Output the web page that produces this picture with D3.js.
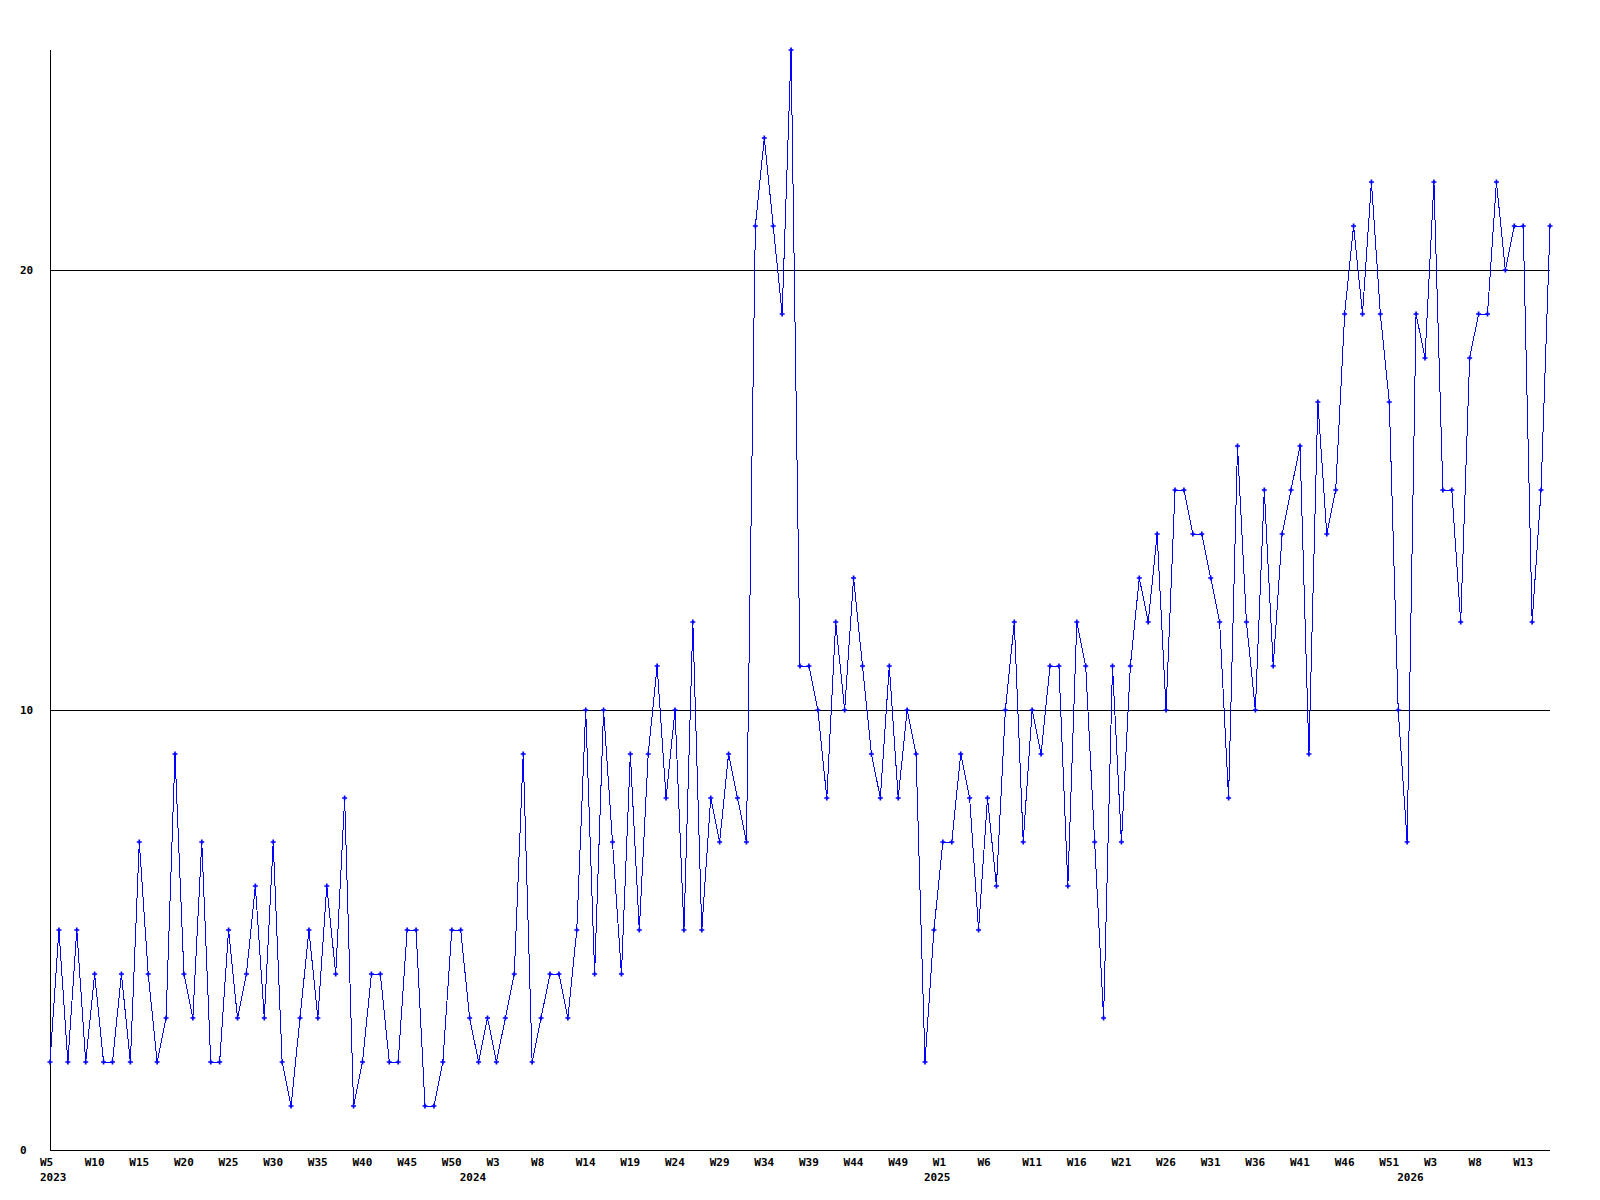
<!DOCTYPE html>
<html>
<head>
<meta charset="utf-8">
<script src="https://cdn.jsdelivr.net/npm/d3@7"></script>
<style>
  body { margin: 0; background: #ffffff; }
  text { font-family: "DejaVu Sans Mono", monospace; font-weight: bold; font-size: 11px; fill: #000; }
</style>
</head>
<body>
<svg id="chart" width="1600" height="1200"></svg>
<script>
// ------------------------------------------------------------------// 
// DATA -------------------------------------------------------------//
// ------------------------------------------------------------------// 

// one value per week, 2023 W5 -> 2026 W16
var counts = [2, 5, 2, 5, 2, 4, 2, 2, 4, 2, 7, 4, 2, 3, 9, 4, 3, 7, 2, 2, 5, 3, 4, 6, 3, 7, 2, 1, 3, 5, 3, 6, 4,
    8, 1, 2, 4, 4, 2, 2, 5, 5, 1, 1, 2, 5, 5, 3,
    2, 3, 2, 3, 4, 9, 2, 3, 4, 4, 3, 5, 10, 4, 10, 7, 4, 9,
    5, 9, 11, 8, 10, 5, 12, 5, 8, 7, 9, 8, 7,
    21, 23, 21, 19, 25,
    11, 11, 10, 8, 12, 10, 13, 11, 9, 8, 11, 8, 10, 9, 2, 5,
    7, 7, 9, 8, 5, 8, 6, 10, 12, 7, 10, 9, 11, 11, 6, 12, 11, 7, 3, 11, 7, 11, 13, 12, 14, 10, 15, 15, 14, 14, 13, 12, 8,
    16, 12, 10, 15, 11, 14, 15, 16, 9, 17, 14, 15, 19, 21, 19, 22, 19, 17, 10, 7, 19, 18, 22, 15, 15, 12, 18, 19, 19, 22, 20, 21, 21, 12, 15, 21];

// week label on every 5th point
var weekLabels = ["W5", "W10", "W15", "W20", "W25", "W30", "W35", "W40", "W45", "W50", "W3", "W8",
    "W14", "W19", "W24", "W29", "W34", "W39", "W44", "W49", "W1", "W6", "W11",
    "W16", "W21", "W26", "W31", "W36", "W41", "W46", "W51", "W3", "W8", "W13"];

var years = ["2023", "2024", "2025", "2026"];
var yearIndex = [0, 47, 99, 152];

var yTicks = [0, 10, 20];

// ------------------------------------------------------------------// 
// CHART ------------------------------------------------------------//
// ------------------------------------------------------------------// 

var margin = { top: 50, right: 50, bottom: 50, left: 50 },
    width = 1600 - margin.left - margin.right,
    height = 1200 - margin.top - margin.bottom;

var svg = d3.select("#chart");

var x = d3.scaleLinear()
    .domain([0, counts.length - 1])
    .range([margin.left, margin.left + width]);

var y = d3.scaleLinear()
    .domain([0, 25])
    .range([margin.top + height, margin.top]);

// grid lines
svg.selectAll("line.grid")
    .data(yTicks.filter(function (d) { return d > 0; }))
    .enter()
    .append("line")
    .attr("class", "grid")
    .attr("x1", x(0))
    .attr("x2", x(counts.length - 1))
    .attr("y1", function (d) { return y(d) + 0.5; })
    .attr("y2", function (d) { return y(d) + 0.5; })
    .attr("stroke", "#000")
    .attr("stroke-width", 1);

// axes (plain lines, no ticks)
svg.append("line")
    .attr("x1", x(0) + 0.5).attr("x2", x(0) + 0.5)
    .attr("y1", y(25)).attr("y2", y(0) + 1)
    .attr("stroke", "#000");

svg.append("line")
    .attr("x1", x(0)).attr("x2", x(counts.length - 1))
    .attr("y1", y(0) + 0.5).attr("y2", y(0) + 0.5)
    .attr("stroke", "#000");

// y labels
svg.selectAll("text.ylab")
    .data(yTicks)
    .enter()
    .append("text")
    .attr("class", "ylab")
    .attr("x", 20)
    .attr("y", function (d) { return y(d) + 4; })
    .text(function (d) { return d; });

// x labels
svg.selectAll("text.week")
    .data(weekLabels)
    .enter()
    .append("text")
    .attr("class", "week")
    .attr("x", function (d, i) { return x(i * 5) - 10; })
    .attr("y", 1166)
    .text(function (d) { return d; });

svg.selectAll("text.year")
    .data(years)
    .enter()
    .append("text")
    .attr("class", "year")
    .attr("x", function (d, i) { return x(yearIndex[i]) - 10; })
    .attr("y", 1181)
    .text(function (d) { return d; });

// the series
var line = d3.line()
    .x(function (d, i) { return x(i); })
    .y(function (d) { return y(d); });

svg.append("path")
    .datum(counts)
    .attr("d", line)
    .attr("fill", "none")
    .attr("stroke", "#0000ff")
    .attr("stroke-width", 1)
    .attr("shape-rendering", "crispEdges");

svg.selectAll("path.mark")
    .data(counts)
    .enter()
    .append("path")
    .attr("class", "mark")
    .attr("transform", function (d, i) { return "translate(" + x(i) + "," + y(d) + ")"; })
    .attr("d", d3.symbol().type(d3.symbolCross).size(14))
    .attr("fill", "#0000ff");
</script>
</body>
</html>
